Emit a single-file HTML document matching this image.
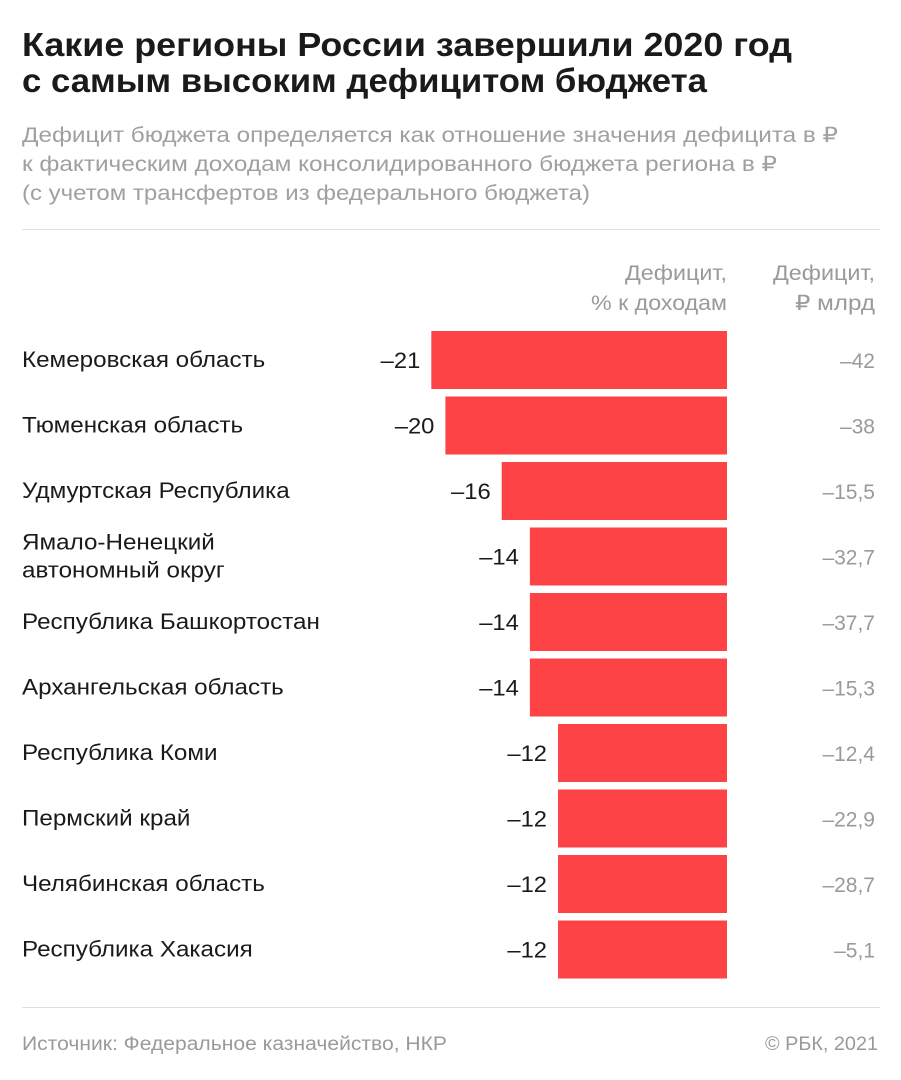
<!DOCTYPE html>
<html><head><meta charset="utf-8"><style>
body{margin:0;background:#fff;}
svg{display:block;font-family:"Liberation Sans",sans-serif;}
</style></head><body>
<svg id="chart" width="901" height="1080" viewBox="0 0 901 1080">
<text x="22" y="56" font-size="33" font-weight="bold" fill="#1a1a1a" textLength="770" lengthAdjust="spacingAndGlyphs">Какие регионы России завершили 2020 год</text>
<text x="22" y="92" font-size="33" font-weight="bold" fill="#1a1a1a" textLength="685" lengthAdjust="spacingAndGlyphs">с самым высоким дефицитом бюджета</text>
<text x="22" y="142" font-size="21" fill="#a0a0a0" textLength="816" lengthAdjust="spacingAndGlyphs">Дефицит бюджета определяется как отношение значения дефицита в ₽</text>
<text x="22" y="171" font-size="21" fill="#a0a0a0" textLength="755" lengthAdjust="spacingAndGlyphs">к фактическим доходам консолидированного бюджета региона в ₽</text>
<text x="22" y="200" font-size="21" fill="#a0a0a0" textLength="568" lengthAdjust="spacingAndGlyphs">(с учетом трансфертов из федерального бюджета)</text>
<rect x="22" y="229" width="858" height="1" fill="#e0e0e0"/>
<text x="727" y="280" font-size="21" fill="#9a9a9a" text-anchor="end" textLength="102" lengthAdjust="spacingAndGlyphs">Дефицит,</text>
<text x="727" y="310" font-size="21" fill="#9a9a9a" text-anchor="end" textLength="136" lengthAdjust="spacingAndGlyphs">% к доходам</text>
<text x="875" y="280" font-size="21" fill="#9a9a9a" text-anchor="end" textLength="102" lengthAdjust="spacingAndGlyphs">Дефицит,</text>
<text x="875" y="310" font-size="21" fill="#9a9a9a" text-anchor="end" textLength="80" lengthAdjust="spacingAndGlyphs">₽ млрд</text>
<g id="rows"></g>
<rect x="22" y="1007" width="858" height="1" fill="#e0e0e0"/>
<text x="22" y="1050" font-size="19" fill="#9a9a9a" textLength="425" lengthAdjust="spacingAndGlyphs">Источник: Федеральное казначейство, НКР</text>
<text x="878" y="1050" font-size="19" fill="#9a9a9a" text-anchor="end" textLength="113" lengthAdjust="spacingAndGlyphs">© РБК, 2021</text>
</svg>
<script>
const regions = [["Кемеровская область"],["Тюменская область"],["Удмуртская Республика"],["Ямало-Ненецкий","автономный округ"],["Республика Башкортостан"],["Архангельская область"],["Республика Коми"],["Пермский край"],["Челябинская область"],["Республика Хакасия"]];
const pctValues = [-21,-20,-16,-14,-14,-14,-12,-12,-12,-12];
const rubValues = ["–42","–38","–15,5","–32,7","–37,7","–15,3","–12,4","–22,9","–28,7","–5,1"];
const NS = "http://www.w3.org/2000/svg";
const zeroX = 727, pxPerUnit = 14.08, rowTop0 = 331, rowStep = 65.5, barH = 58;
const xScale = v => zeroX + v * pxPerUnit;
const g = document.getElementById('rows');
function mk(tag, attrs, txt){const e=document.createElementNS(NS,tag);for(const k in attrs)e.setAttribute(k,attrs[k]);if(txt!==undefined)e.textContent=txt;return e;}
function stretch(t,f){const w=t.getComputedTextLength();t.setAttribute('textLength',w*f);t.setAttribute('lengthAdjust','spacingAndGlyphs');}
pctValues.forEach((v,i)=>{
  const top = rowTop0 + i*rowStep, mid = top + barH/2;
  const x0 = xScale(v);
  const bar = mk('rect',{x:x0,y:top,width:zeroX-x0,height:barH,fill:'#fd4345'});
  
  
  g.appendChild(bar);
  const vl = mk('text',{x:x0-11,y:mid+8,'font-size':22,fill:'#1a1a1a','text-anchor':'end'},'–'+Math.abs(v));
  
  
  g.appendChild(vl);
  stretch(vl,1.08);
  const rl = mk('text',{x:875,y:mid+8,'font-size':21,fill:'#9a9a9a','text-anchor':'end'},rubValues[i]);
  
  
  g.appendChild(rl);
  const lines = regions[i];
  lines.forEach((ln,j)=>{
    const y = lines.length===1 ? mid+7 : mid-7+j*28;
    const t = mk('text',{x:22,y:y,'font-size':22,fill:'#1a1a1a'},ln);
    
    
    g.appendChild(t);
    stretch(t,1.1);
  });
});
</script>
</body></html>
